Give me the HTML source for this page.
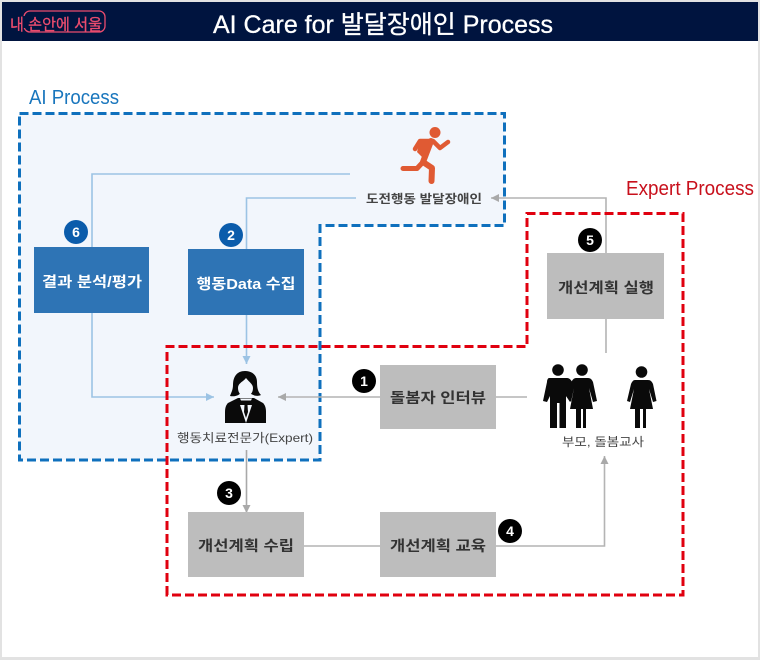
<!DOCTYPE html>
<html><head><meta charset="utf-8"><style>
html,body{margin:0;padding:0;width:760px;height:660px;overflow:hidden;background:#fff}
svg{display:block;filter:blur(0.35px)}
text{font-family:"Liberation Sans","Noto Sans CJK KR",sans-serif}
</style></head><body>
<svg width="760" height="660" viewBox="0 0 760 660" xmlns="http://www.w3.org/2000/svg">
<defs>
<marker id="g" markerUnits="userSpaceOnUse" markerWidth="10" markerHeight="10" refX="9" refY="5" orient="auto"><path d="M1 1L9 5L1 9Z" fill="#a9a9a9"/></marker>
<marker id="b" markerUnits="userSpaceOnUse" markerWidth="10" markerHeight="10" refX="9" refY="5" orient="auto"><path d="M1 1L9 5L1 9Z" fill="#9cc3e4"/></marker>
</defs>
<rect width="760" height="660" fill="#fff"/>
<rect x="0" y="0" width="2" height="660" fill="#e2e2e2"/>
<rect x="758" y="0" width="2" height="660" fill="#e2e2e2"/>
<rect x="0" y="0" width="760" height="2" fill="#e2e2e2"/>
<rect x="0" y="657" width="760" height="3" fill="#e2e2e2"/>
<rect x="2" y="2" width="756" height="39" fill="#00143f"/>
<rect x="24" y="11" width="81" height="21" rx="6" fill="none" stroke="#ea4c6e" stroke-width="1.300"/>
<rect x="20" y="16" width="6" height="12" fill="#00143f"/>
<text x="10" y="30" font-size="16" fill="#ea4c6e" stroke="#ea4c6e" stroke-width="0.300" textLength="92" lengthAdjust="spacingAndGlyphs">내 손안에 서울</text>
<text x="213" y="33" font-size="25" fill="#fff" stroke="#fff" stroke-width="0.300" textLength="340" lengthAdjust="spacingAndGlyphs">AI Care for 발달장애인 Process</text>

<path d="M19.5 113.5H504.5V225.5H320V460H19.5Z" fill="#f2f6fc" stroke="#0f70bd" stroke-width="3" stroke-dasharray="9 4"/>
<text x="29" y="104" font-size="20" fill="#1976bd" textLength="90" lengthAdjust="spacingAndGlyphs">AI Process</text>
<text x="626" y="195" font-size="20" fill="#c8101c" textLength="128" lengthAdjust="spacingAndGlyphs">Expert Process</text>

<g fill="none" stroke-width="1.600">
<path d="M350 174H92V247M92 313V397H214" stroke="#9cc3e4" marker-end="url(#b)"/>
<path d="M356 198H246.500V249M246.500 315V364" stroke="#9cc3e4" marker-end="url(#b)"/>
<path d="M606 353V319M606 253V198H491" stroke="#b4b4b4" marker-end="url(#g)"/>
<path d="M527 397H278" stroke="#b4b4b4" marker-end="url(#g)"/>
<path d="M246.500 450V513" stroke="#a9a9a9" marker-end="url(#g)"/>
<path d="M304 546H604.500V456" stroke="#b4b4b4" marker-end="url(#g)"/>
</g>

<path d="M167 595V346.500H527V213.500H683V595Z" fill="none" stroke="#e0000f" stroke-width="3" stroke-dasharray="9 4"/>

<g fill="#2e74b5">
<rect x="34" y="247" width="115" height="66"/>
<rect x="188" y="249" width="116" height="66"/>
</g>
<g fill="#bdbdbd">
<rect x="547" y="253" width="117" height="66"/>
<rect x="380" y="365" width="116" height="64"/>
<rect x="188" y="512" width="116" height="65"/>
<rect x="380" y="512" width="116" height="65"/>
</g>
<g font-size="14.500" font-weight="700" text-anchor="middle">
<text x="92" y="287" fill="#fff" textLength="100" lengthAdjust="spacingAndGlyphs">결과 분석/평가</text>
<text x="246" y="289" fill="#fff" textLength="99" lengthAdjust="spacingAndGlyphs">행동Data 수집</text>
<g fill="#333">
<text x="606" y="293" textLength="96" lengthAdjust="spacingAndGlyphs">개선계획 실행</text>
<text x="438" y="403" textLength="96" lengthAdjust="spacingAndGlyphs">돌봄자 인터뷰</text>
<text x="246" y="551" textLength="96" lengthAdjust="spacingAndGlyphs">개선계획 수립</text>
<text x="438" y="551" textLength="96" lengthAdjust="spacingAndGlyphs">개선계획 교육</text>
</g>
</g>

<text x="424" y="203" font-size="12" font-weight="700" fill="#444" text-anchor="middle" textLength="116" lengthAdjust="spacingAndGlyphs">도전행동 발달장애인</text>
<text x="245" y="442" font-size="12" fill="#444" text-anchor="middle" textLength="136" lengthAdjust="spacingAndGlyphs">행동치료전문가(Expert)</text>
<text x="603" y="446" font-size="12" fill="#444" text-anchor="middle" textLength="82" lengthAdjust="spacingAndGlyphs">부모, 돌봄교사</text>

<!-- runner -->
<circle cx="435" cy="132.500" r="5.500" fill="#e05a33"/>
<g fill="none" stroke="#e05a33" stroke-linecap="round" stroke-linejoin="round">
<path d="M415 149L420 141H433L440 148L448 142" stroke-width="4.500"/>
<path d="M431 141L423 162L432 168L431.500 181" stroke-width="6"/>
<path d="M423 162L417 168.500H403" stroke-width="5"/>
</g>
<path d="M420 141H433L425 160L417 152Z" fill="#e05a33"/>

<!-- expert -->
<g fill="#0a0a0a">
<path d="M245 371C236 371 233 378 233 385C233 390 231 393 230 396C235 397 240 395 240 393H250C252 395 257 397 261 395C258 392 257 388 257 382C257 375 252 371 245 371Z"/>
<path d="M238 398H254L263 403C265 405 266 408 266 412V423H225V412C225 408 226 405 228 403Z"/>
</g>
<path d="M238 388C238 383 243 382 246 378C249 382 253 384 253 388C253 393 250 396 245.500 396C241 396 238 393 238 388Z" fill="#f2f6fc"/>
<path d="M240 398.500H252L251 400.500H241Z" fill="#f2f6fc"/>
<path d="M240 405H252L246 423Z" fill="#f2f6fc"/>
<path d="M244.500 405H247.500L248 412L246 418L244 412Z" fill="#0a0a0a"/>

<!-- parents -->
<g fill="#0a0a0a">
<circle cx="558" cy="370" r="5.800"/>
<path d="M549 378H567C570 378 572 381 573 384L570 402L566 396V428H559.500V403H557V428H550V396L547 402L543 401L547 382C547 380 548 378 549 378Z"/>
<circle cx="582" cy="370" r="5.800"/>
<path d="M576 378H588C591 378 592 380 593 382L597 401L593 402L589 388L593 409H586V428H583V409H581V428H576V409H570L574 388L571 402L566 396L571 383C572 380 574 378 576 378Z"/>
<circle cx="641.500" cy="372" r="5.800"/>
<path d="M635 380H648C651 380 652 382 653 384L656.500 401L653 402L649 389L653 409H646V428H643V409H640V428H635V409H630L634 389L630 402L627 401L631 384C632 382 633 380 635 380Z"/>
</g>

<!-- badges -->
<g font-size="14" font-weight="700" text-anchor="middle" fill="#fff">
<circle cx="76" cy="232" r="12" fill="#0b5cab"/><text x="76" y="237">6</text>
<circle cx="231" cy="235" r="12" fill="#0b5cab"/><text x="231" y="240">2</text>
<g fill="#000">
<circle cx="590" cy="240" r="12"/><circle cx="364" cy="381" r="12"/><circle cx="229" cy="493" r="12"/><circle cx="510" cy="531" r="12"/>
</g>
<text x="590" y="245">5</text>
<text x="364" y="386">1</text>
<text x="229" y="498">3</text>
<text x="510" y="536">4</text>
</g>
</svg>
</body></html>
